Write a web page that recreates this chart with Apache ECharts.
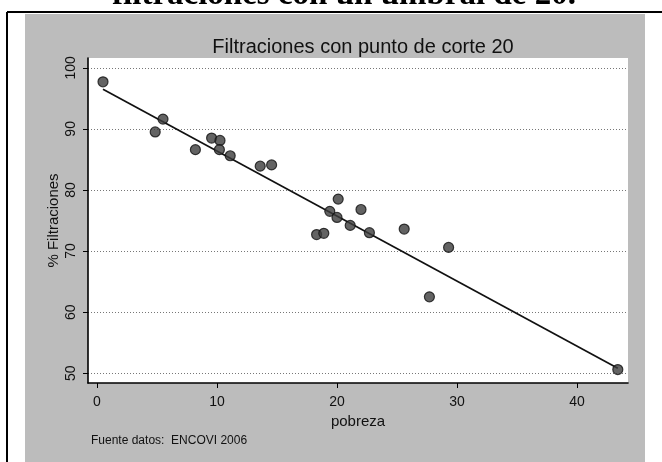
<!DOCTYPE html>
<html>
<head>
<meta charset="utf-8">
<script src="https://cdn.jsdelivr.net/npm/echarts@6/dist/echarts.min.js"></script>
<style>
  html, body { margin: 0; padding: 0; background: #ffffff; }
  #chart { width: 662px; height: 462px; }
</style>
</head>
<body>
<div id="chart"></div>
<script>
// Poverty rate (%) per region and the share of leakages (%) at cut-off 20
const pobreza = [0.5, 4.85, 5.5, 8.2, 9.55, 10.25, 10.2, 11.1, 13.6, 14.55, 18.3, 18.9, 19.4, 20.0, 20.1, 21.1, 22.0, 22.7, 25.6, 27.7, 29.3, 43.4];
const filtraciones = [97.7, 89.5, 91.6, 86.6, 88.5, 88.1, 86.6, 85.6, 83.9, 84.1, 72.7, 72.9, 76.5, 75.5, 78.5, 74.2, 76.8, 73.0, 73.6, 62.5, 70.6, 50.6];

// Fitted linear trend, endpoints
const ajusteX = [0.5, 43.4];
const ajusteY = [96.5, 50.8];

// Axis ticks
const ticksX = [0, 10, 20, 30, 40];
const ticksY = [50, 60, 70, 80, 90, 100];

const tituloSuperior = 'filtraciones con un umbral de 20.';
const titulo = 'Filtraciones con punto de corte 20';
const nombreX = 'pobreza';
const nombreY = '% Filtraciones';
const fuente = 'Fuente datos:  ENCOVI 2006';

const puntos = pobreza.map((x, i) => [x, filtraciones[i]]);
const linea = ajusteX.map((x, i) => [x, ajusteY[i]]);

const sans = 'Liberation Sans, Arial, sans-serif';
const ink = '#111111';

const chart = echarts.init(document.getElementById('chart'), null, { renderer: 'canvas' });

chart.setOption({
  backgroundColor: '#ffffff',
  animation: false,
  title: {
    text: titulo,
    left: 358,
    top: 32,
    textAlign: 'center',
    textStyle: { fontFamily: sans, fontSize: 20, fontWeight: 'normal', color: ink }
  },
  graphic: [
    {
      type: 'rect', z: -10,
      shape: { x: 25, y: 14, width: 620, height: 448 },
      style: { fill: '#bcbcbc' }
    },
    {
      type: 'line', z: 5,
      shape: { x1: 7, y1: 12, x2: 662, y2: 12 },
      style: { stroke: '#000', lineWidth: 2 }
    },
    {
      type: 'line', z: 5,
      shape: { x1: 7, y1: 12, x2: 7, y2: 462 },
      style: { stroke: '#000', lineWidth: 2 }
    },
    {
      type: 'text', z: 5,
      x: 344, y: -5,
      style: {
        text: tituloSuperior,
        font: 'bold 33px "Liberation Serif", "Times New Roman", serif',
        fill: '#000',
        textAlign: 'center',
        textVerticalAlign: 'middle'
      }
    },
    {
      type: 'text', z: 5,
      x: 91, y: 441,
      style: {
        text: fuente,
        font: '12px "Liberation Sans", Arial, sans-serif',
        fill: ink,
        textAlign: 'left',
        textVerticalAlign: 'middle'
      }
    }
  ],
  grid: {
    left: 88, right: 34, top: 58, bottom: 79,
    show: true,
    backgroundColor: '#ffffff',
    borderWidth: 0
  },
  xAxis: {
    type: 'value',
    min: -0.75,
    max: 44.25,
    name: nombreX,
    nameLocation: 'middle',
    nameGap: 27,
    nameTextStyle: { fontFamily: sans, fontSize: 15, color: ink },
    axisLine: { show: true, onZero: false, lineStyle: { color: '#000', width: 1.6 } },
    axisTick: { show: true, length: 5, customValues: ticksX, lineStyle: { color: '#000', width: 1 } },
    axisLabel: { customValues: ticksX, margin: 12, fontFamily: sans, fontSize: 14, color: ink },
    splitLine: { show: false }
  },
  yAxis: {
    type: 'value',
    min: 48.4,
    max: 101.6,
    name: nombreY,
    nameLocation: 'middle',
    nameGap: 27,
    nameRotate: 90,
    nameMoveOverlap: false,
    nameTextStyle: { fontFamily: sans, fontSize: 15, color: ink },
    axisLine: { show: true, onZero: false, lineStyle: { color: '#000', width: 1.6 } },
    axisTick: { show: true, length: 5, customValues: ticksY, lineStyle: { color: '#000', width: 1 } },
    axisLabel: { customValues: ticksY, rotate: 90, margin: 10, fontFamily: sans, fontSize: 14, color: ink },
    splitLine: { show: true, lineStyle: { color: '#777', width: 1, type: [1, 2] } }
  },
  series: [
    {
      type: 'line',
      data: linea,
      symbol: 'none',
      lineStyle: { color: '#111', width: 1.7 },
      z: 2
    },
    {
      type: 'scatter',
      data: puntos,
      symbol: 'circle',
      symbolSize: 10,
      itemStyle: { color: '#3c3c3c', borderColor: '#111', borderWidth: 1.2 },
      z: 3
    }
  ]
});
</script>
</body>
</html>
